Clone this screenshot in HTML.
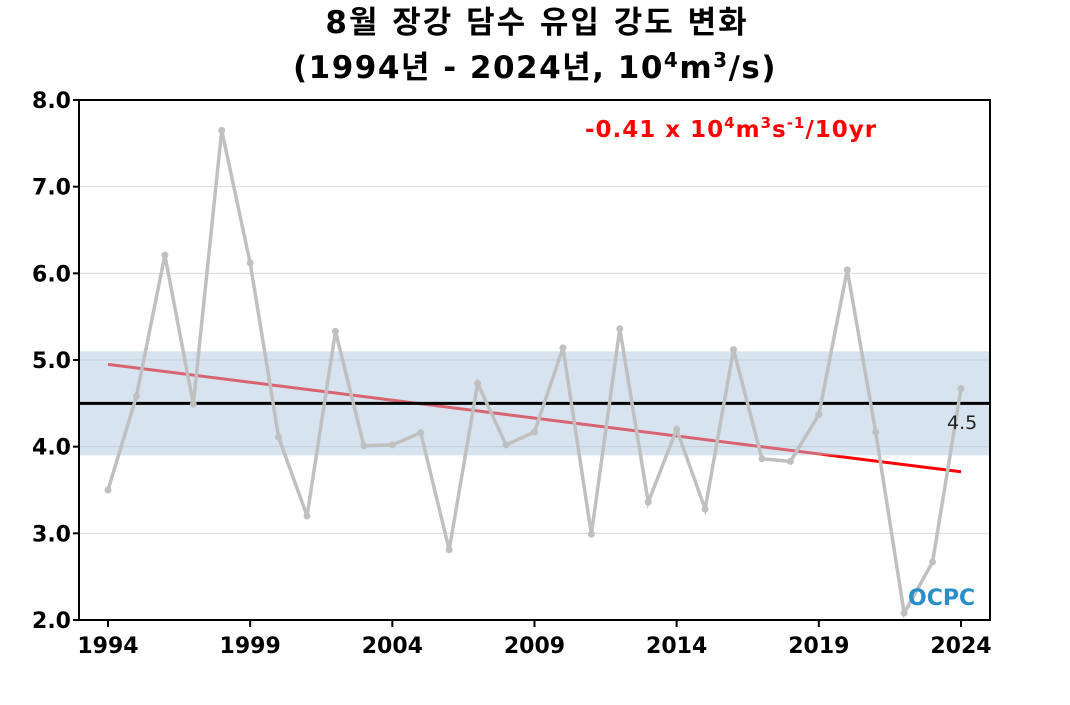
<!DOCTYPE html>
<html><head><meta charset="utf-8"><style>
body{margin:0;background:#fff;}
svg text{font-family:"DejaVu Sans","Noto Sans CJK KR",sans-serif;}
</style></head><body>
<svg id="c" width="1070" height="700" xmlns="http://www.w3.org/2000/svg">
<text x="537" y="33" text-anchor="middle" font-size="31" letter-spacing="2" font-weight="bold">8월 장강 담수 유입 강도 변화</text>
<text x="535" y="78" text-anchor="middle" font-size="31" letter-spacing="1.5" font-weight="bold">(1994년 - 2024년, 10<tspan dy="-11" font-size="20">4</tspan><tspan dy="11">m</tspan><tspan dy="-11" font-size="20">3</tspan><tspan dy="11">/s)</tspan></text>
<g id="grid"></g>
<g id="marks"></g>
<rect x="79" y="100" width="911" height="520" fill="none" stroke="#000" stroke-width="2"/>
<g id="axes"></g>
<text x="585" y="137" font-size="23" letter-spacing="1" font-weight="bold" fill="#ff0000">-0.41 x 10<tspan dy="-9" font-size="15">4</tspan><tspan dy="9">m</tspan><tspan dy="-9" font-size="15">3</tspan><tspan dy="9">s</tspan><tspan dy="-9" font-size="15">-1</tspan><tspan dy="9">/10yr</tspan></text>
<text x="947" y="429" font-size="19" fill="#222">4.5</text>
<text x="908" y="605" font-size="22" font-weight="bold" fill="#2a8fc8">OCPC</text>
</svg>
<script>
const years=[1994,1995,1996,1997,1998,1999,2000,2001,2002,2003,2004,2005,2006,2007,2008,2009,2010,2011,2012,2013,2014,2015,2016,2017,2018,2019,2020,2021,2022,2023,2024];
const values=[3.5,4.58,6.21,4.49,7.65,6.12,4.11,3.2,5.33,4.01,4.02,4.16,2.81,4.73,4.02,4.17,5.14,2.99,5.36,3.36,4.2,3.28,5.12,3.86,3.83,4.37,6.04,4.17,2.08,2.67,4.67];
const yTicks=[2,3,4,5,6,7,8];
const xTicks=[1994,1999,2004,2009,2014,2019,2024];
const meanValue=4.5;
const bandRange=[3.9,5.1];
const trendEnds=[4.95,3.71];
const NS="http://www.w3.org/2000/svg";
const X=y=>108+(y-1994)*(961-108)/30;
const Y=v=>620-(v-2)*520/6;
function mk(p,t,a){const e=document.createElementNS(NS,t);for(const k in a)e.setAttribute(k,a[k]);document.getElementById(p).appendChild(e);return e;}
yTicks.forEach(t=>{
 if(t>2&&t<8){const g=mk('grid','line',{x1:79,x2:990,y1:Y(t),y2:Y(t),stroke:'#d8d8d8','stroke-width':1});
 
 }
 const l=mk('axes','text',{x:71,y:Y(t)+8,'text-anchor':'end','font-size':22,'font-weight':'bold'});
 l.textContent=t.toFixed(1);
 
 
 const tk=mk('axes','line',{x1:73,x2:79,y1:Y(t),y2:Y(t),stroke:'#000','stroke-width':2});
 
 
});
xTicks.forEach(t=>{
 const l=mk('axes','text',{x:X(t),y:653,'text-anchor':'middle','font-size':22,'font-weight':'bold'});
 l.textContent=t;
 
 
 const tk=mk('axes','line',{x1:X(t),x2:X(t),y1:620,y2:627,stroke:'#000','stroke-width':2});
 
 
});
const tr=mk('marks','line',{x1:X(years[0]),y1:Y(trendEnds[0]),x2:X(years[years.length-1]),y2:Y(trendEnds[1]),stroke:'#ff0000','stroke-width':3});


const b=mk('marks','rect',{x:80,width:909,y:Y(bandRange[1]),height:Y(bandRange[0])-Y(bandRange[1]),fill:'rgba(176,200,224,0.5)'});


const m=mk('marks','line',{x1:80,x2:989,y1:Y(meanValue),y2:Y(meanValue),stroke:'#000','stroke-width':3});


const s=mk('marks','polyline',{points:years.map((y,i)=>X(y)+','+Y(values[i])).join(' '),fill:'none',stroke:'#c0c0c0','stroke-width':3.5});


years.forEach((y,i)=>{
 const p=mk('marks','circle',{cx:X(y),cy:Y(values[i]),r:3.5,fill:'#c0c0c0'});
 
 
});
</script>
</body></html>
